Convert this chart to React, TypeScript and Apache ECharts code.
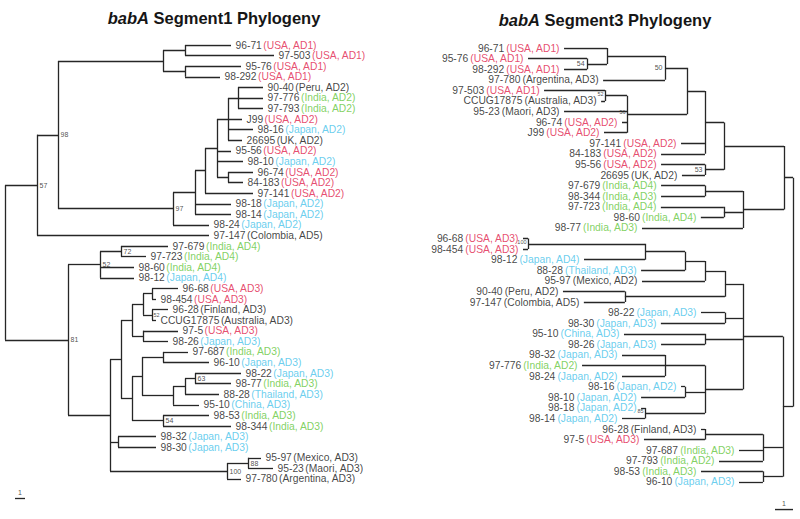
import React, { useEffect, useRef } from "react";
import * as echarts from "echarts";

// ---------- Segment 1 tree (Newick, branch lengths in scale-bar units, internal labels = bootstrap) ----------
const seg1AD1 = "((96-71:4.6,97-503:8.9):2.2,(95-76:5.6,98-292:3.5):2.2)";
const seg1AD2core = "((90-40:2.5,97-776:2.5,97-793:2.5):1.0,J99:1.4,98-16:2.5,26695:1.4)";
const seg1AD2 = `((((${seg1AD2core}:1.1,95-56:1.4,98-10:2.6,(96-74:2.5,84-183:1.5):1.1):1.2,97-141:4.8):1.0,98-18:3.6,98-14:3.6):2.2,98-24:3.6)97`;
const seg1Upper = `((${seg1AD1}:10.5,${seg1AD2}:11.5)98:2.1,97-147:17.2)57`;
const seg1AD4 = "((97-679:4.7,97-723:2.5)72:2.1,98-60:3.4,98-12:3.4)52";
const seg1AD3a = "(((96-68:2.6,98-454:0.4):0.9,(96-28:1.6,CCUG17875:0.4)52:0.9):1.1,(97-5:3.5,98-26:2.5):1.1)";
const seg1AD3b = "(((97-687:2.5,96-10:4.6):2.1,(((98-22:4.6,98-77:3.6)63:1.0,88-28:3.4):1.2,95-10:2.6):3.1):1.0,(98-53:4.6,98-344:6.8)54:3.1)";
const seg1AD3c = "((95-97:1.3,95-23:2.5)88:2.1,97-780:1.4)100";
const seg1Lower = `(${seg1AD4}:3.2,((${seg1AD3a}:1.1,${seg1AD3b}:1.1):1.1,(98-32:3.8,98-30:3.8):0.8,${seg1AD3c}:11.7):4.2)81`;
const seg1Newick = `(${seg1Upper}:3.2,${seg1Lower}:6.3);`;

// ---------- Segment 3 tree ----------
const seg3Top = "((96-71:2.39,(95-76:3.28,98-292:1.28)54:1.11):3.22,97-780:3.44)50";
const seg3Mid = "((97-503:3.39,CCUG17875:0.22)52:1.22,95-23:3.5,96-74:0.28,J99:1.28)56";
const seg3AD2 = `(((${seg3Top}:1.22,${seg3Mid}:3.33):1.0,97-141:1.33,84-183:2.44):1.06,(95-56:2.44,26695:1.28)53:1.06)`;
const seg3India = "((97-679:2.44,98-344:2.44):2.11,(97-723:3.5,98-60:1.28):1.06,98-77:5.61)";
const seg3Upper = `(${seg3AD2}:3.33,${seg3India}:2.28)`;
const seg3A = "(((((96-68:0.28,98-454:0.28)100:6.5,98-12:3.39):2.22,88-28:2.44):1.11,95-97:3.5):1.11,(90-40:3.44,97-147:2.28):5.56)";
const seg3B = "((98-32:2.39,97-776:4.61,98-24:2.39):2.22,(98-16:0.22,98-10:2.44):1.11,(98-18:0.22,98-14:1.28)85:3.33)";
const seg3Japan = `(${seg3A}:1.0,(98-22:1.33,98-30:3.56):1.0,(95-10:4.5,98-26:2.44):2.11,${seg3B}:2.11)`;
const seg3Lower = `(${seg3Japan}:2.22,((96-28:0.22,97-5:3.39):3.22,97-687:1.33,97-793:2.44):1.11,(98-53:3.44,96-10:1.33):1.11)`;
const seg3Newick = `(${seg3Upper}:0.5,${seg3Lower}:0.56);`;

// ---------- Strain origins ----------
const strainOrigins: [string, string][] = [
  ["96-71", "USA, AD1"], ["97-503", "USA, AD1"], ["95-76", "USA, AD1"], ["98-292", "USA, AD1"],
  ["90-40", "Peru, AD2"], ["97-776", "India, AD2"], ["97-793", "India, AD2"], ["J99", "USA, AD2"],
  ["98-16", "Japan, AD2"], ["26695", "UK, AD2"], ["95-56", "USA, AD2"], ["98-10", "Japan, AD2"],
  ["96-74", "USA, AD2"], ["84-183", "USA, AD2"], ["97-141", "USA, AD2"], ["98-18", "Japan, AD2"],
  ["98-14", "Japan, AD2"], ["98-24", "Japan, AD2"], ["97-147", "Colombia, AD5"],
  ["97-679", "India, AD4"], ["97-723", "India, AD4"], ["98-60", "India, AD4"], ["98-12", "Japan, AD4"],
  ["96-68", "USA, AD3"], ["98-454", "USA, AD3"], ["96-28", "Finland, AD3"], ["CCUG17875", "Australia, AD3"],
  ["97-5", "USA, AD3"], ["98-26", "Japan, AD3"], ["97-687", "India, AD3"], ["96-10", "Japan, AD3"],
  ["98-22", "Japan, AD3"], ["98-77", "India, AD3"], ["88-28", "Thailand, AD3"], ["95-10", "China, AD3"],
  ["98-53", "India, AD3"], ["98-344", "India, AD3"], ["98-32", "Japan, AD3"], ["98-30", "Japan, AD3"],
  ["95-97", "Mexico, AD3"], ["95-23", "Maori, AD3"], ["97-780", "Argentina, AD3"],
];
const seg3OriginOverrides: [string, string][] = [["95-97", "Mexico, AD2"]];

const redCountries = ["USA"];
const greenCountries = ["India"];
const cyanCountries = ["Japan", "Thailand", "China"];

const titles = ["Segment1 Phylogeny", "Segment3 Phylogeny"];

const RED = "#e0204a";
const GREEN = "#62c639";
const CYAN = "#45c2ea";
const FONT = '"Liberation Sans", Arial, Helvetica, sans-serif';

type TNode = { name: string; len: number; children: TNode[]; x: number; y: number };

function parseNewick(s: string): TNode {
  let i = 0;
  const read = (): TNode => {
    const n: TNode = { name: "", len: 0, children: [], x: 0, y: 0 };
    if (s[i] === "(") {
      i++;
      n.children.push(read());
      while (s[i] === ",") {
        i++;
        n.children.push(read());
      }
      i++;
    }
    let name = "";
    while (i < s.length && !",():;".includes(s[i])) name += s[i++];
    n.name = name.trim();
    if (s[i] === ":") {
      i++;
      let num = "";
      while (i < s.length && !",();".includes(s[i])) num += s[i++];
      n.len = parseFloat(num);
    }
    return n;
  };
  return read();
}

function layoutTree(root: TNode) {
  let leaf = 0;
  const segs: number[][][] = [];
  const leaves: TNode[] = [];
  const boots: TNode[] = [];
  const walk = (n: TNode, px: number) => {
    n.x = px + n.len;
    if (!n.children.length) {
      n.y = leaf++;
      leaves.push(n);
      return;
    }
    n.children.forEach((c) => walk(c, n.x));
    const f = n.children[0];
    const l = n.children[n.children.length - 1];
    n.y = (f.y + l.y) / 2;
    segs.push([[n.x, f.y], [n.x, l.y]]);
    n.children.forEach((c) => segs.push([[n.x, c.y], [c.x, c.y]]));
    if (n.name) boots.push(n);
  };
  walk(root, 0);
  return { segs, leaves, boots };
}

function colorKey(origin: string) {
  const country = origin.split(",")[0].trim();
  if (redCountries.includes(country)) return "r";
  if (greenCountries.includes(country)) return "g";
  if (cyanCountries.includes(country)) return "c";
  return "k";
}

export default function App() {
  const ref = useRef<HTMLDivElement>(null);

  useEffect(() => {
    document.body.style.margin = "0";
    if (!ref.current) return;
    const chart = echarts.init(ref.current, undefined, { renderer: "svg" });

    const originMaps = [
      new Map(strainOrigins),
      new Map([...strainOrigins, ...seg3OriginOverrides]),
    ];
    const trees = [layoutTree(parseNewick(seg1Newick)), layoutTree(parseNewick(seg3Newick))];

    const rich = {
      n: { color: "#111", fontSize: 10.3, fontFamily: FONT },
      r: { color: RED, fontSize: 10.3, fontFamily: FONT, padding: [0, 0, 0, 1.5] },
      g: { color: GREEN, fontSize: 10.3, fontFamily: FONT, padding: [0, 0, 0, 1.5] },
      c: { color: CYAN, fontSize: 10.3, fontFamily: FONT, padding: [0, 0, 0, 1.5] },
      k: { color: "#111", fontSize: 10.3, fontFamily: FONT, padding: [0, 0, 0, 1.5] },
    };

    const scaleBars = [
      { x0: 1, y: 42.8 },
      { x0: 0, y: 43.55 },
    ];

    const series: any[] = [];
    trees.forEach((t, ti) => {
      const sb = scaleBars[ti];
      series.push({
        type: "lines",
        coordinateSystem: "cartesian2d",
        xAxisIndex: ti,
        yAxisIndex: ti,
        silent: true,
        lineStyle: { color: "#262626", width: 1.3, opacity: 1, curveness: 0 },
        data: [
          ...t.segs.map((c) => ({ coords: c })),
          { coords: [[sb.x0, sb.y], [sb.x0 + 1, sb.y]] },
        ],
      });
      series.push({
        type: "scatter",
        xAxisIndex: ti,
        yAxisIndex: ti,
        silent: true,
        symbol: "circle",
        symbolSize: 1,
        itemStyle: { color: "rgba(0,0,0,0)" },
        label: {
          show: true,
          position: ti === 0 ? "right" : "left",
          distance: 4,
          formatter: (p: any) => `{n|${p.data[2]}}{${p.data[4]}|(${p.data[3]})}`,
          rich,
        },
        data: t.leaves.map((n) => {
          const o = originMaps[ti].get(n.name) || "";
          return [n.x, n.y, n.name, o, colorKey(o)];
        }),
      });
      series.push({
        type: "scatter",
        xAxisIndex: ti,
        yAxisIndex: ti,
        silent: true,
        symbolSize: 1,
        itemStyle: { color: "rgba(0,0,0,0)" },
        label: {
          show: true,
          position: ti === 0 ? "right" : "left",
          distance: 2,
          color: "#222",
          fontFamily: FONT,
        },
        data: t.boots.map((n) => {
          // nodes holding a very short tip get a smaller label so it fits in the fork
          const tight = n.children.some((c) => !c.children.length && c.len < 0.5);
          return {
            value: [n.x, n.y],
            label: {
              formatter: n.name,
              fontSize: tight ? 5.5 : 7,
              distance: tight ? 1 : 2,
              offset: tight && ti === 1 ? [0, -2] : [0, 0],
            },
          };
        }),
      });
      series.push({
        type: "scatter",
        xAxisIndex: ti,
        yAxisIndex: ti,
        silent: true,
        symbolSize: 1,
        itemStyle: { color: "rgba(0,0,0,0)" },
        label: {
          show: true,
          position: "top",
          distance: 1,
          formatter: "1",
          fontSize: 7,
          color: "#222",
          fontFamily: FONT,
        },
        data: [[sb.x0 + 0.5, sb.y]],
      });
    });

    const titleStyle = (fs: number) => ({
      fontSize: fs,
      fontWeight: "bold" as const,
      fontFamily: FONT,
      color: "#161616",
      rich: {
        i: { fontSize: fs, fontWeight: "bold" as const, fontStyle: "italic" as const, fontFamily: FONT, color: "#161616" },
      },
    });

    chart.setOption({
      animation: false,
      backgroundColor: "#ffffff",
      title: [
        { text: `{i|babA} ${titles[0]}`, left: 209, top: 4, textAlign: "center", textStyle: titleStyle(16.5) },
        { text: `{i|babA} ${titles[1]}`, left: 600, top: 6, textAlign: "center", textStyle: titleStyle(16.5) },
      ],
      grid: [
        { left: 5, top: 45, width: 300, height: 465.7 },
        { left: 433, top: 48, width: 360, height: 465.7 },
      ],
      xAxis: [
        { gridIndex: 0, type: "value", min: 0, max: 30, show: false },
        { gridIndex: 1, type: "value", min: 0, max: 20, inverse: true, show: false },
      ],
      yAxis: [
        { gridIndex: 0, type: "value", min: 0, max: 44, inverse: true, show: false },
        { gridIndex: 1, type: "value", min: 0, max: 44, inverse: true, show: false },
      ],
      series,
    });

    return () => chart.dispose();
  }, []);

  return (
    <div
      ref={ref}
      style={{ position: "fixed", left: 0, top: 0, width: 800, height: 519, background: "#fff" }}
    />
  );
}
